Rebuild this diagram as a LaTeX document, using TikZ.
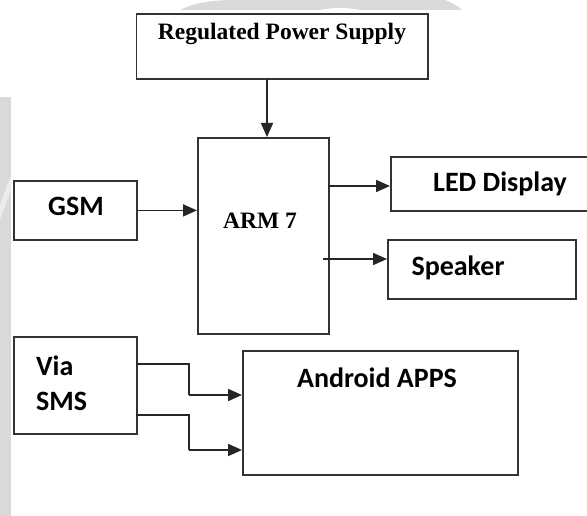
\documentclass[tikz,border=0pt]{standalone}
\usepackage{fontspec}
\setmainfont{Liberation Serif}
\newfontfamily\calibfont{Carlito}
\usetikzlibrary{arrows.meta}
\begin{document}
\begin{tikzpicture}[x=1pt,y=-1pt,
  box/.style={draw=black!80, line width=1.8pt, inner sep=0pt, anchor=north west},
  arr/.style={draw=black!85, line width=1.7pt, -{Triangle[length=14pt,width=12pt]}},
  conn/.style={draw=black!85, line width=1.7pt},
  sanslbl/.style={font=\calibfont\bfseries\fontsize{28}{32}\selectfont, anchor=base, inner sep=0pt},
  seriflbl/.style={font=\bfseries\fontsize{23.5}{27}\selectfont, anchor=base, inner sep=0pt},
  wm/.style={fill=black!15, draw=none}]
\useasboundingbox (0,0) rectangle (587,516);
\fill[white] (0,0) rectangle (587,516);
% watermark
\fill[wm] (0,97) -- (11,97) -- (11,516) -- (0,516) -- cycle;
\fill[black!8] (0,205) -- (11,175) -- (11,190) -- (0,220) -- cycle;
\fill[wm] (180,10) .. controls (195,3) and (210,0) .. (235,0) -- (445,0)
  .. controls (452,3) and (458,6) .. (462,10) -- (360,10)
  .. controls (345,7) and (335,7) .. (320,10) -- cycle;
% boxes
\node[box, minimum width=291.5pt, minimum height=65pt] (reg) at (135.5,13) {};
\node[box, minimum width=131pt, minimum height=196pt] (arm) at (197,137) {};
\node[box, minimum width=123pt, minimum height=59pt] (gsm) at (13,180) {};
\node[box, minimum width=205pt, minimum height=54pt] (led) at (390,156) {};
\node[box, minimum width=188pt, minimum height=59pt] (spk) at (387,239) {};
\node[box, minimum width=123pt, minimum height=97pt] (sms) at (13,336) {};
\node[box, minimum width=275pt, minimum height=124pt] (andr) at (242,350) {};
% labels
\node[seriflbl] (regt) at (282,40) {Regulated Power Supply};
\node[seriflbl] (armt) at (260,229) {ARM 7};
\node[sanslbl] (gsmt) at (76,215) {GSM};
\node[sanslbl] (ledt) at (500,192) {LED Display};
\node[sanslbl] (spkt) at (458,276) {Speaker};
\node[sanslbl] (andt) at (377,387) {Android APPS};
\node[sanslbl, anchor=base west] (via) at (36,375) {Via};
\node[sanslbl, anchor=base west] (smst) at (36,410) {SMS};
% connectors
\coordinate (p1) at (267,78);
\draw[arr] (p1) -- (p1 |- arm.north);
\draw[arr] (gsm.east) -- (arm.west |- gsm.east);
\coordinate (l0) at (328,186);
\draw[arr] (l0) -- (led.west |- l0);
\coordinate (s0) at (323,259);
\draw[arr] (s0) -- (spk.west |- s0);
\coordinate (a1) at (136,364);
\coordinate (a2) at (189,395);
\draw[conn] (a1) -| (a2);
\draw[arr] (a2) -- (andr.west |- a2);
\coordinate (b1) at (136,415);
\coordinate (b2) at (189,450);
\draw[conn] (b1) -| (b2);
\draw[arr] (b2) -- (andr.west |- b2);
\end{tikzpicture}
\end{document}
